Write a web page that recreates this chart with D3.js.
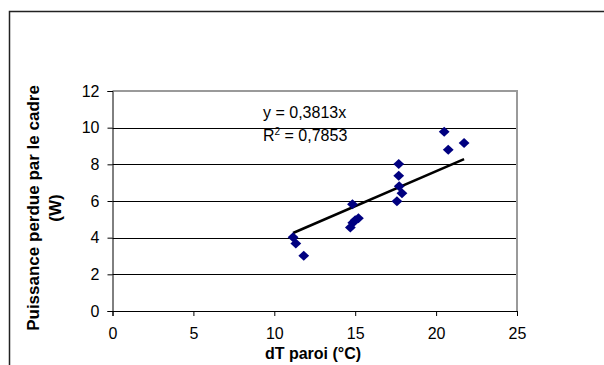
<!DOCTYPE html>
<html><head><meta charset="utf-8">
<script src="https://cdn.jsdelivr.net/npm/d3@7"></script>
<style>body{margin:0;background:#fff}svg{display:block}text{font-family:"Liberation Sans",Arial,sans-serif}</style>
</head><body><svg id="c" width="604" height="365"></svg>
<script>
const dT = [11.16, 11.33, 11.82, 14.83, 14.70, 14.85, 15.00, 15.20, 17.69, 17.69, 17.72, 17.89, 17.58, 20.50, 20.75, 21.73];
const puissance = [4.02, 3.68, 3.02, 5.82, 4.56, 4.82, 4.95, 5.06, 8.02, 7.38, 6.80, 6.42, 5.98, 9.78, 8.80, 9.17];
const slope = 0.3813;
const xTicks = [0, 5, 10, 15, 20, 25];
const yTicks = [0, 2, 4, 6, 8, 10, 12];
const eqLines = ["y = 0,3813x", "R", "2", " = 0,7853"];

const svg = d3.select("#c");
const L = 112.5, R = 517, T = 91, B = 311;
const x = d3.scaleLinear().domain([0, 25]).range([L, R]);
const y = d3.scaleLinear().domain([0, 12]).range([B, T]);

// outer chart border
svg.append("rect").attr("x", 9.5).attr("y", 11.5).attr("width", 640).attr("height", 400)
  .attr("fill", "none").attr("stroke", "#222").attr("stroke-width", 1.5);

// gridlines
svg.append("g").selectAll("line").data(yTicks.filter(d => d > 0 && d < 12)).join("line")
  .attr("x1", L).attr("x2", R).attr("y1", d => Math.round(y(d)) + 0.5).attr("y2", d => Math.round(y(d)) + 0.5)
  .attr("stroke", "#000").attr("stroke-width", 1);
// plot border top & right (gray)
svg.append("path").attr("d", `M${L},${T} H${R} V${B}`).attr("fill", "none")
  .attr("stroke", "#9a9a9a").attr("stroke-width", 2);

// axes
const yAxis = d3.axisLeft(y).tickValues(yTicks).tickSize(5).tickPadding(8);
const gy = svg.append("g").attr("transform", `translate(${L},0)`).call(yAxis);
const xAxis = d3.axisBottom(x).tickValues(xTicks).tickSize(5).tickPadding(12);
const gx = svg.append("g").attr("transform", `translate(0,${B})`).call(xAxis);
[gy, gx].forEach(g => {
  g.select(".domain").attr("stroke", "#000");
  g.selectAll("line").attr("stroke", "#000");
  g.selectAll("text").attr("font-size", 16).attr("fill", "#000").style("font-family", '"Liberation Sans",Arial,sans-serif');
});

// trendline
const [xmin, xmax] = d3.extent(dT);
svg.append("line").attr("x1", x(xmin)).attr("y1", y(slope * xmin)).attr("x2", x(xmax)).attr("y2", y(slope * xmax))
  .attr("stroke", "#000").attr("stroke-width", 2.5);

// markers
const diamond = "M0,-5L5.4,0L0,5L-5.4,0Z";
svg.append("g").selectAll("path").data(dT.map((d, i) => [d, puissance[i]])).join("path")
  .attr("d", diamond).attr("transform", d => `translate(${x(d[0])},${y(d[1])})`).attr("fill", "#000080");

// equation
const eq = svg.append("text").attr("font-size", 16).attr("fill", "#000");
eq.append("tspan").attr("x", 263).attr("y", 118).text(eqLines[0]);
eq.append("tspan").attr("x", 263).attr("y", 141).text(eqLines[1]);
eq.append("tspan").attr("dy", -6).attr("font-size", 10).text(eqLines[2]);
eq.append("tspan").attr("dy", 6).text(eqLines[3]);

// axis titles
svg.append("text").attr("x", 313).attr("y", 359).attr("text-anchor", "middle")
  .attr("font-size", 16).attr("font-weight", "bold").text("dT paroi (°C)");
const yt = svg.append("text").attr("transform", "translate(0,208) rotate(-90)").attr("text-anchor", "middle")
  .attr("font-size", 17).attr("font-weight", "bold");
yt.append("tspan").attr("x", 0).attr("y", 39).text("Puissance perdue par le cadre");
yt.append("tspan").attr("x", 0).attr("y", 61).text("(W)");
</script></body></html>
